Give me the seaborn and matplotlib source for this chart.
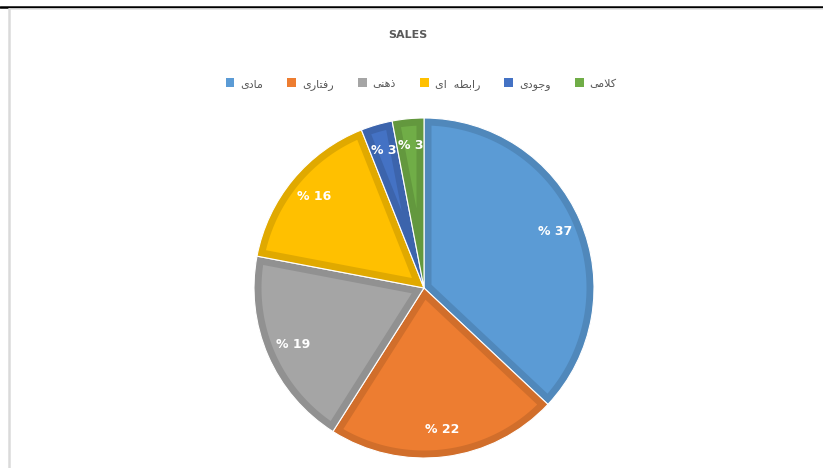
import matplotlib
matplotlib.use("Agg")
import numpy as np
import matplotlib.pyplot as plt
import matplotlib.colors as mcolors
from matplotlib.patches import Patch, Polygon
import seaborn as sns

# ---------------- data ----------------
title = "SALES"
categories = ["مادی", "رفتاری", "ذهنی", "رابطه  ای", "وجودی", "کلامی"]
values = [37, 22, 19, 16, 3, 3]
colors = ["#5B9BD5", "#ED7D31", "#A5A5A5", "#FFC000", "#4472C4", "#70AD47"]

# ---------------- minimal Arabic/Persian shaping ----------------
FORMS = {  # iso, fin, ini, med
    "ا": (0xFE8D, 0xFE8E, None, None),
    "ب": (0xFE8F, 0xFE90, 0xFE91, 0xFE92),
    "ت": (0xFE95, 0xFE96, 0xFE97, 0xFE98),
    "ج": (0xFE9D, 0xFE9E, 0xFE9F, 0xFEA0),
    "د": (0xFEA9, 0xFEAA, None, None),
    "ذ": (0xFEAB, 0xFEAC, None, None),
    "ر": (0xFEAD, 0xFEAE, None, None),
    "ط": (0xFEC1, 0xFEC2, 0xFEC3, 0xFEC4),
    "ف": (0xFED1, 0xFED2, 0xFED3, 0xFED4),
    "ل": (0xFEDD, 0xFEDE, 0xFEDF, 0xFEE0),
    "م": (0xFEE1, 0xFEE2, 0xFEE3, 0xFEE4),
    "ن": (0xFEE5, 0xFEE6, 0xFEE7, 0xFEE8),
    "ه": (0xFEE9, 0xFEEA, 0xFEEB, 0xFEEC),
    "و": (0xFEED, 0xFEEE, None, None),
    "ی": (0xFBFC, 0xFBFD, 0xFBFE, 0xFBFF),
    "ک": (0xFB8E, 0xFB8F, 0xFB90, 0xFB91),
}


def shape(text):
    chars = list(text)
    out = []
    i = 0
    n = len(chars)
    while i < n:
        c = chars[i]
        if c not in FORMS:
            out.append(c)
            i += 1
            continue
        prev = chars[i - 1] if i > 0 else None
        joins_prev = prev in FORMS and FORMS[prev][2] is not None
        if c == "ل" and i + 1 < n and chars[i + 1] == "ا":
            out.append(chr(0xFEFC if joins_prev else 0xFEFB))
            i += 2
            continue
        nxt = chars[i + 1] if i + 1 < n else None
        joins_next = FORMS[c][2] is not None and nxt in FORMS
        iso, fin, ini, med = FORMS[c]
        if joins_prev and joins_next:
            code = med
        elif joins_prev:
            code = fin
        elif joins_next:
            code = ini
        else:
            code = iso
        out.append(chr(code))
        i += 1
    return "".join(reversed(out))


sns.set_theme(style="white")
plt.rcParams["font.family"] = ["DejaVu Sans"]

W, H = 823, 468
fig = plt.figure(figsize=(W / 100, H / 100), dpi=100)
fig.patch.set_facecolor("white")

# frame lines
fig.add_artist(plt.Line2D([0, 1], [1 - 6.5 / H, 1 - 6.5 / H], color="black", lw=1.8))
fig.add_artist(plt.Line2D([9 / W, 1], [1 - 9 / H, 1 - 9 / H], color="#E3E3E3", lw=1.2))
fig.add_artist(plt.Line2D([9 / W, 9 / W], [0, 1 - 8.5 / H], color="#DADADA", lw=1.8))

cx, cy, R = 424, 288, 170
half = 1.03 * R
ax = fig.add_axes([(cx - half) / W, (H - cy - half) / H, 2 * half / W, 2 * half / H])

dark_colors = [tuple(v * 0.88 for v in mcolors.to_rgb(c)) for c in colors]

wedges, texts, autotexts = ax.pie(
    values,
    colors=dark_colors,
    startangle=90,
    counterclock=False,
    radius=1.0,
    autopct=lambda p: "% {:.0f}".format(p),
    pctdistance=0.84,
    textprops=dict(color="white", fontsize=9, fontweight="bold"),
    wedgeprops=dict(linewidth=0.8, edgecolor="white"),
)
ax.set_xlim(-1.03, 1.03)
ax.set_ylim(-1.03, 1.03)
ax.set_aspect("equal")
ax.axis("off")

# inner (lighter) area of each slice, inset from the slice border
d = 7.5 / R
for w, c in zip(wedges, colors):
    t1, t2 = np.radians(min(w.theta1, w.theta2)), np.radians(max(w.theta1, w.theta2))
    alpha = t2 - t1
    r = w.r
    x0, y0 = w.center
    bis = (t1 + t2) / 2
    apex = d / np.sin(alpha / 2)
    rho = r - d
    delta = np.arcsin(d / rho)
    if t2 - delta <= t1 + delta:
        continue
    arc = np.linspace(t1 + delta, t2 - delta, 120)
    pts = [(x0 + apex * np.cos(bis), y0 + apex * np.sin(bis))]
    pts += [(x0 + rho * np.cos(a), y0 + rho * np.sin(a)) for a in arc]
    poly = Polygon(pts, closed=True, facecolor=c, edgecolor="none", zorder=w.get_zorder() + 0.1)
    ax.add_patch(poly)

for t in autotexts:
    t.set_zorder(5)

fig.text(0.5 - 0.005, 1 - 35 / H, title, ha="center", va="center",
         fontsize=8, fontweight="bold", color="#595959")

handles = [Patch(facecolor=c, edgecolor="none") for c in colors]
leg = fig.legend(handles, [shape(c) for c in categories], ncol=6,
                 loc="center", bbox_to_anchor=(421 / W, 1 - 84 / H),
                 frameon=False, fontsize=8, handlelength=0.8, handleheight=0.8,
                 handletextpad=0.5, columnspacing=2.2)
for t in leg.get_texts():
    t.set_color("#595959")

fig.savefig("out.png", dpi=100)
